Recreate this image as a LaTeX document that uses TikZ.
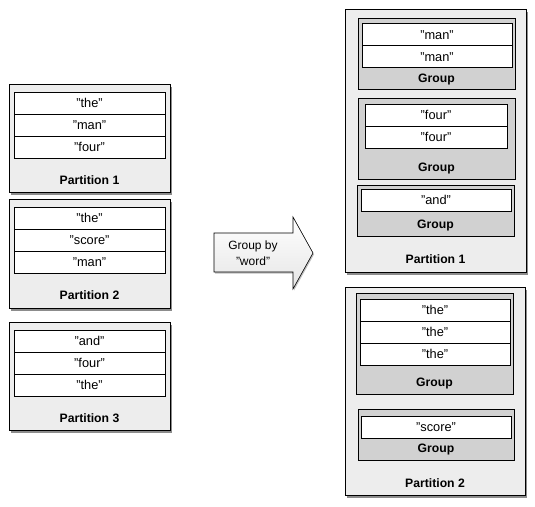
\documentclass[tikz,border=0pt]{standalone}
\usepackage{fontspec}
\setmainfont{Liberation Sans}
\usepackage{tikz}
\usetikzlibrary{positioning,shadows}

\begin{document}
\begin{tikzpicture}[x=1pt,y=-1pt,
	partbox/.style={draw,line width=0.8pt,fill=black!7,inner sep=0pt,
		drop shadow={shadow xshift=1.5pt,shadow yshift=-2.5pt,opacity=0.45,fill=black}},
	groupbox/.style={draw,line width=0.8pt,fill=black!18,inner sep=0pt},
	wordbox/.style={draw,line width=0.8pt,fill=white,inner sep=0pt,minimum height=22pt,
		text height=9pt,text depth=0pt,font=\fontsize{12.8}{14}\selectfont},
	boxlabel/.style={font=\fontsize{12.2}{14}\selectfont\bfseries,inner sep=0pt,
		text height=9pt,text depth=0pt}]
	\useasboundingbox (0,0) rectangle (535,506);
	% left side: the three partitions
	\node[partbox,minimum width=161pt,minimum height=108pt] (p1) at (89.5,138) {};
	\node[wordbox,minimum width=151pt] (p1a) at (89.5,103) {"the"};
	\node[wordbox,minimum width=151pt] (p1b) at (89.5,125) {"man"};
	\node[wordbox,minimum width=151pt] (p1c) at (89.5,147) {"four"};
	\node[boxlabel] (p1l) at (89.5,180) {Partition 1};

	\node[partbox,minimum width=161pt,minimum height=109pt] (p2) at (89.5,253.5) {};
	\node[wordbox,minimum width=151pt] (p2a) at (89.5,218) {"the"};
	\node[wordbox,minimum width=151pt] (p2b) at (89.5,240) {"score"};
	\node[wordbox,minimum width=151pt] (p2c) at (89.5,262) {"man"};
	\node[boxlabel] (p2l) at (89.5,295) {Partition 2};

	\node[partbox,minimum width=161pt,minimum height=108pt] (p3) at (89.5,376) {};
	\node[wordbox,minimum width=151pt] (p3a) at (89.5,341) {"and"};
	\node[wordbox,minimum width=151pt] (p3b) at (89.5,363) {"four"};
	\node[wordbox,minimum width=151pt] (p3c) at (89.5,385) {"the"};
	\node[boxlabel] (p3l) at (89.5,418) {Partition 3};

	% the arrow
	\coordinate (a1) at (214,233);
	\coordinate (a2) at (293,233);
	\coordinate (a3) at (293,217);
	\coordinate (a4) at (313,253);
	\coordinate (a5) at (293,289);
	\coordinate (a6) at (293,272);
	\coordinate (a7) at (214,272);
	\draw[line width=0.6pt,top color=white,bottom color=black!10,
		drop shadow={shadow xshift=1pt,shadow yshift=-1.5pt,opacity=0.25,fill=black}]
		(a1) -- (a2) -- (a3) -- (a4) -- (a5) -- (a6) -- (a7) -- cycle;
	\node[align=center,font=\fontsize{12}{15.5}\selectfont,inner sep=0pt] (grp) at (253,253)
		{Group by\\"word"};

	% right side: partition 1
	\node[partbox,minimum width=181pt,minimum height=263pt] (q1) at (435.5,140.5) {};
	\node[groupbox,minimum width=157pt,minimum height=71pt] (g1) at (436.5,53.5) {};
	\node[wordbox,minimum width=150pt] (g1a) at (437,34.5) {"man"};
	\node[wordbox,minimum width=150pt] (g1b) at (437,56.5) {"man"};
	\node[boxlabel] (g1l) at (436.5,78) {Group};
	\node[groupbox,minimum width=157pt,minimum height=81pt] (g2) at (436.5,138.5) {};
	\node[wordbox,minimum width=142pt] (g2a) at (436,115) {"four"};
	\node[wordbox,minimum width=142pt] (g2b) at (436,137) {"four"};
	\node[boxlabel] (g2l) at (436.5,167) {Group};
	\node[groupbox,minimum width=157pt,minimum height=51pt] (g3) at (435.5,210.5) {};
	\node[wordbox,minimum width=150pt] (g3a) at (436,200) {"and"};
	\node[boxlabel] (g3l) at (435.5,224) {Group};
	\node[boxlabel] (q1l) at (435.5,259) {Partition 1};

	% right side: partition 2
	\node[partbox,minimum width=180pt,minimum height=208pt] (q2) at (435,391) {};
	\node[groupbox,minimum width=157pt,minimum height=101pt] (g4) at (434.5,343.5) {};
	\node[wordbox,minimum width=150pt] (g4a) at (435,310) {"the"};
	\node[wordbox,minimum width=150pt] (g4b) at (435,332) {"the"};
	\node[wordbox,minimum width=150pt] (g4c) at (435,354) {"the"};
	\node[boxlabel] (g4l) at (434.5,382) {Group};
	\node[groupbox,minimum width=156pt,minimum height=51pt] (g5) at (436,434.5) {};
	\node[wordbox,minimum width=150pt] (g5a) at (436,427) {"score"};
	\node[boxlabel] (g5l) at (436,448) {Group};
	\node[boxlabel] (q2l) at (435,483) {Partition 2};
\end{tikzpicture}
\end{document}
